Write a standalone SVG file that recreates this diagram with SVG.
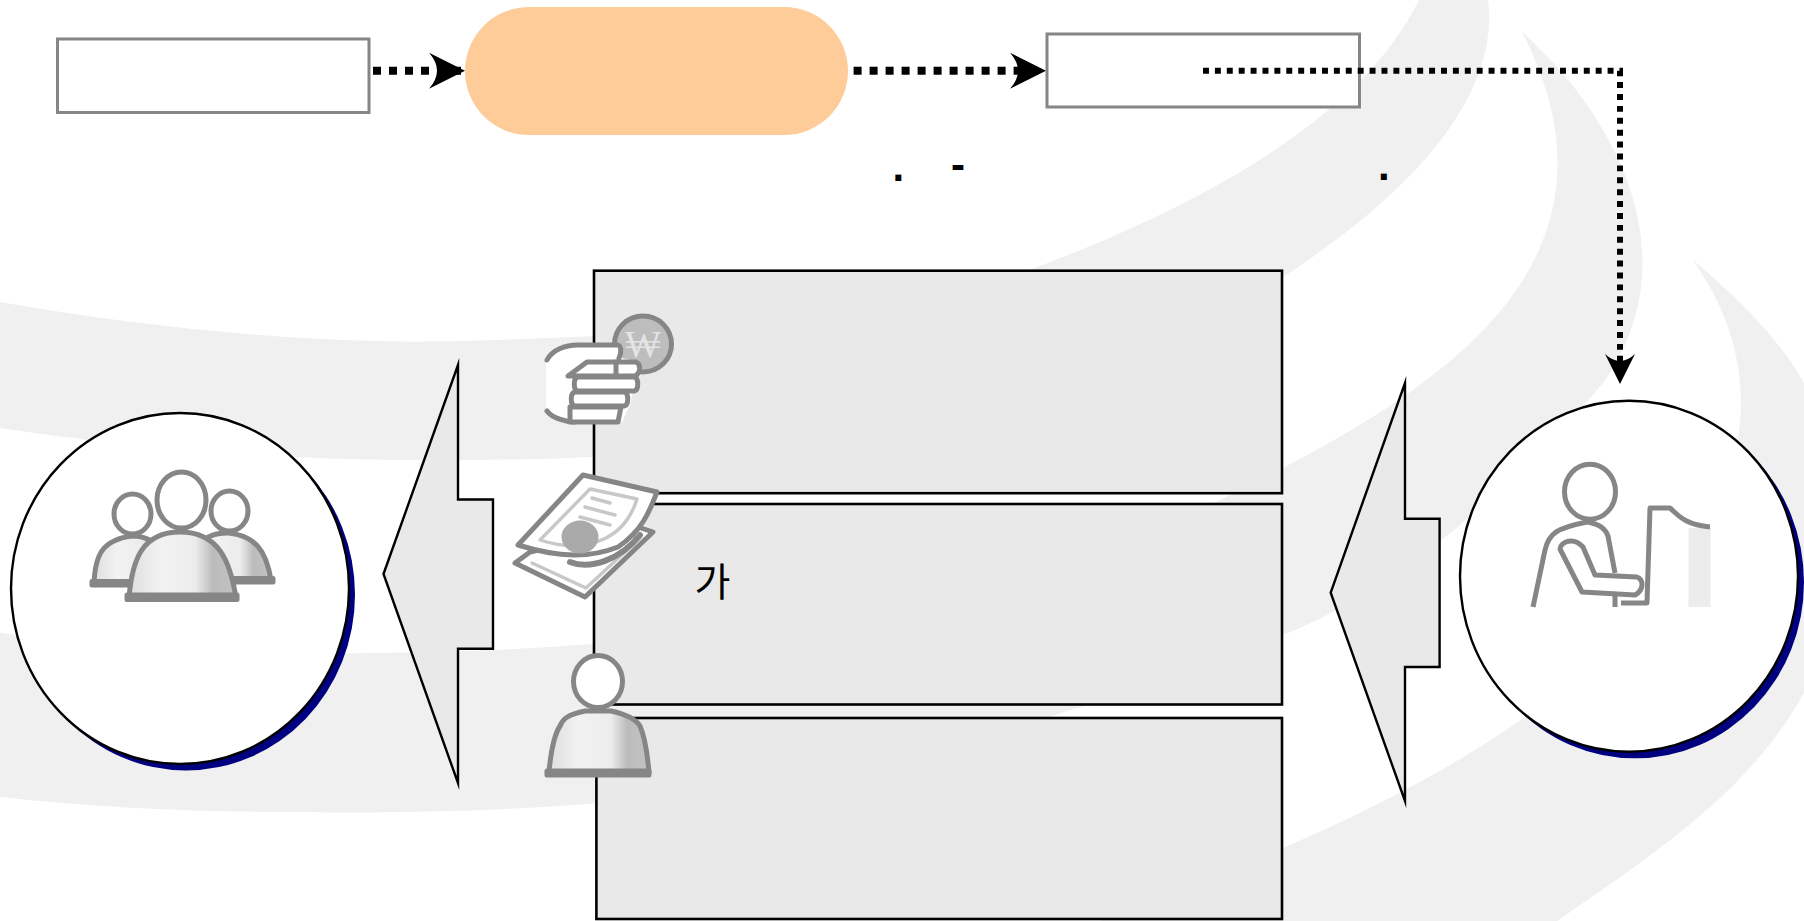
<svg xmlns="http://www.w3.org/2000/svg" width="1804" height="921" viewBox="0 0 1804 921">
<style>
.sw{fill:#f0f0f0}
.lb{fill:#fff;stroke:#868686;stroke-width:3}
.bx{fill:#e9e9e9;stroke:#000;stroke-width:2.6}
.co{fill:#e9e9e9;stroke:#000;stroke-width:2.4;stroke-miterlimit:20}
.ci{fill:#fff;stroke:#000;stroke-width:2.4}
.sh{fill:#000080}
.ic{stroke:#868686;stroke-width:5;stroke-linejoin:round;stroke-linecap:round}
.h{fill:#fff}
.n{fill:none}
.w{fill:#fff}
.lt{fill:none;stroke:#c8c8c8;stroke-width:3.4}
.d1{fill:none;stroke:#000;stroke-width:8;stroke-dasharray:8 8}
.d2{fill:none;stroke:#000;stroke-width:6;stroke-dasharray:5.95 5.95}
.t{font-family:"Liberation Sans",sans-serif;font-weight:700;font-size:42px;fill:#000}
.k{font-family:"Noto Sans CJK KR",sans-serif;font-size:39px;fill:#000}
</style>
<defs>
<linearGradient id="sg" x1="0" x2="1" y1="0" y2="0">
<stop offset="0" stop-color="#dedede"/><stop offset=".3" stop-color="#f2f2f2"/><stop offset=".62" stop-color="#ececec"/><stop offset=".78" stop-color="#bcbcbc"/><stop offset="1" stop-color="#c2c2c2"/>
</linearGradient>
<marker id="ah" markerUnits="userSpaceOnUse" markerWidth="36" markerHeight="36" refX="33" refY="18" orient="auto" viewBox="0 0 36 36">
<path d="M0,0 L36,18 L0,36 Q16,18 0,0 Z" fill="#000"/>
</marker>
<marker id="ah2" markerUnits="userSpaceOnUse" markerWidth="30" markerHeight="30" refX="24" refY="15" orient="auto" viewBox="0 0 30 30">
<path d="M0,0 L30,15 L0,30 Q14,15 0,0 Z" fill="#000"/>
</marker>
</defs>
<g id="background">
<rect width="1804" height="921" fill="#fff"/>
<path class="sw" d="M0,302 C160,330 330,345 460,341 C690,335 900,320 1035,268 C1200,205 1360,120 1419,0 L1488,0 C1498,80 1440,175 1283,277 C1100,400 800,460 460,460 C280,462 120,446 0,428 Z"/>
<path class="sw" d="M1522,32 C1620,120 1690,260 1603,383 C1520,480 1400,590 1283,635 C1240,660 1180,680 1067,711 C800,805 500,815 287,812 C200,812 100,808 0,797 L0,633 C100,645 230,655 373,653 C800,650 1100,570 1283,468 C1440,385 1640,260 1522,32 Z"/>
<path class="sw" d="M1693,260 C1770,370 1780,530 1525,717 C1450,770 1370,810 1283,848 L1100,921 L1557,921 C1660,850 1750,790 1804,693 L1804,383 C1780,340 1740,300 1693,260 Z"/>
</g>
<g id="connectors">
<path class="d1" d="M373,70.7 H462" marker-end="url(#ah)"/>
<path class="d1" d="M853.6,70.7 H1043" marker-end="url(#ah)"/>
</g>
<g id="node-label-left"><rect class="lb" x="57.5" y="39" width="311.5" height="73.5"/></g>
<g id="node-pill"><rect x="465" y="7" width="383" height="128" rx="64" ry="64" fill="#fecc99"/></g>
<g id="node-label-right"><rect class="lb" x="1047" y="34" width="312.5" height="73"/></g>
<g id="connector-dotted">
<path class="d2" d="M1203,70.7 H1620 V378" marker-end="url(#ah2)"/>
</g>
<g id="marks">
<text class="t" x="892.5" y="180.6">.</text>
<text class="t" x="951" y="179">-</text>
<text class="t" x="1378" y="180">.</text>
</g>
<g id="box-1"><rect class="bx" x="594" y="270.7" width="688" height="222.5"/></g>
<g id="box-2"><rect class="bx" x="594" y="504" width="688" height="200.5"/></g>
<g id="box-3"><rect class="bx" x="596.4" y="718" width="685.6" height="201"/></g>
<g id="label-ga"><text class="k" x="694.5" y="596">가</text></g>
<g id="callout-left"><path class="co" d="M383.5,574 L458,365 V499.5 H493 V648.7 H458 V783 Z"/></g>
<g id="callout-right"><path class="co" d="M1330.7,592.7 L1405,383 V518.7 H1439.6 V667 H1405 V801 Z"/></g>
<g id="node-circle-left">
<ellipse class="sh" cx="186" cy="594.5" rx="169" ry="176"/>
<ellipse class="ci" cx="180" cy="588.5" rx="169" ry="175.5"/>
<g id="icon-group" class="ic">
<path fill="url(#sg)" d="M94,584 C95,555 102,540 132,536 C160,536 170,560 172,584 Z"/>
<path fill="url(#sg)" d="M190,580 C192,550 200,532 229,533 C255,536 266,550 271,580 Z"/>
<rect x="92" y="581.5" width="60" height="3.5" fill="#868686"/>
<rect x="210" y="578.5" width="63" height="3.5" fill="#868686"/>
<ellipse class="h" cx="132.5" cy="514" rx="18.5" ry="20"/>
<ellipse class="h" cx="229.5" cy="511" rx="18.5" ry="20"/>
<path fill="url(#sg)" d="M129,598 C132,560 142,532 180,532 C218,532 230,560 236,598 Z"/>
<rect x="127" y="595" width="110" height="4.5" fill="#868686"/>
<ellipse class="h" cx="181.5" cy="500" rx="24.5" ry="28"/>
</g>
</g>
<g id="node-circle-right">
<ellipse class="sh" cx="1635" cy="582.3" rx="169" ry="176"/>
<ellipse class="ci" cx="1629" cy="576.3" rx="169" ry="175.5"/>
<g id="icon-computer-user">
<rect x="1688.5" y="528" width="22" height="79" fill="#ececec"/>
<g class="ic n" style="stroke-linecap:butt">
<ellipse class="h" cx="1590" cy="491.7" rx="25.5" ry="27.5"/>
<path d="M1533,607 L1545,550 C1549,533 1557,528 1587,522 C1600,524 1606,530 1608,536 L1615,573"/>
<path d="M1560,549 C1561,541 1574,537 1583,547 L1595,575 L1637,577 C1644,580 1644,590 1635,595 L1582,592 Z"/>
<path d="M1615,596 V607 M1621,603 H1647 L1650,508 H1670 C1678,515 1685,525 1710,527"/>
</g>
</g>
</g>
<g id="icon-hand" class="ic">
<ellipse cx="643" cy="344" rx="28.5" ry="28" fill="#bdbdbd"/>
<text x="643" y="357" text-anchor="middle" font-family="'DejaVu Serif',serif" font-size="38" fill="#e4e4e4" stroke="none">₩</text>
<path class="w" d="M546,360 C552,350 565,345 578,345 H618 L622,358 L640,362 L630,405 L622,422 H567 C556,422 549,417 546,412 Z" stroke="none"/>
<path class="n" d="M547,360 C552,350 565,345 578,345 H618 C621,346 622,352 619,358"/>
<path class="n" d="M547,411 C552,418 566,422 575,422"/>
<path class="w" d="M568,376 L587,362 H636 C641,364 641,373 635,376 Z"/>
<path class="w" d="M578,377 H634 C639,377 639,390 634,391 H578 C573,390 573,378 578,377 Z"/>
<path class="w" d="M575,392 H624 C629,392 629,405 624,406 H575 C570,405 570,393 575,392 Z"/>
<path class="w" d="M570,407 H621 L618,422 H570 Z"/>
<path class="n" d="M616,362 V376"/>
</g>
<g id="icon-document" class="ic">
<path class="w" d="M638,527 L653,532 L585,597 L515,563 L530,552 Z"/>
<path class="lt" d="M630,535 L640,538 L586,588 L532,563"/>
<path class="w" d="M583,475 L657,492 C650,510 643,530 618,547 C590,558 560,558 518,545 Z"/>
<path class="lt" d="M590,489 L637,499 C632,515 622,530 606,538 C585,548 565,548 540,540 Z"/>
<path class="lt" d="M592,498 L610,503 M585,507 L615,515 M580,517 L610,525"/>
<ellipse cx="580" cy="537" rx="16" ry="14" fill="#aaa" stroke="#aaa"/>
<path class="n" d="M570,562 C590,570 620,560 640,535" stroke-width="6"/>
</g>
<g id="icon-person" class="ic">
<path fill="url(#sg)" d="M549,772 C551,750 554,735 560,726 C563,718 570,714 585,711 H611 C625,714 635,718 640,726 C644,735 647,750 649,772 Z"/>
<rect x="547" y="771" width="102" height="4" fill="#868686"/>
<ellipse class="h" cx="598" cy="681.5" rx="24.5" ry="26"/>
</g>
</svg>
